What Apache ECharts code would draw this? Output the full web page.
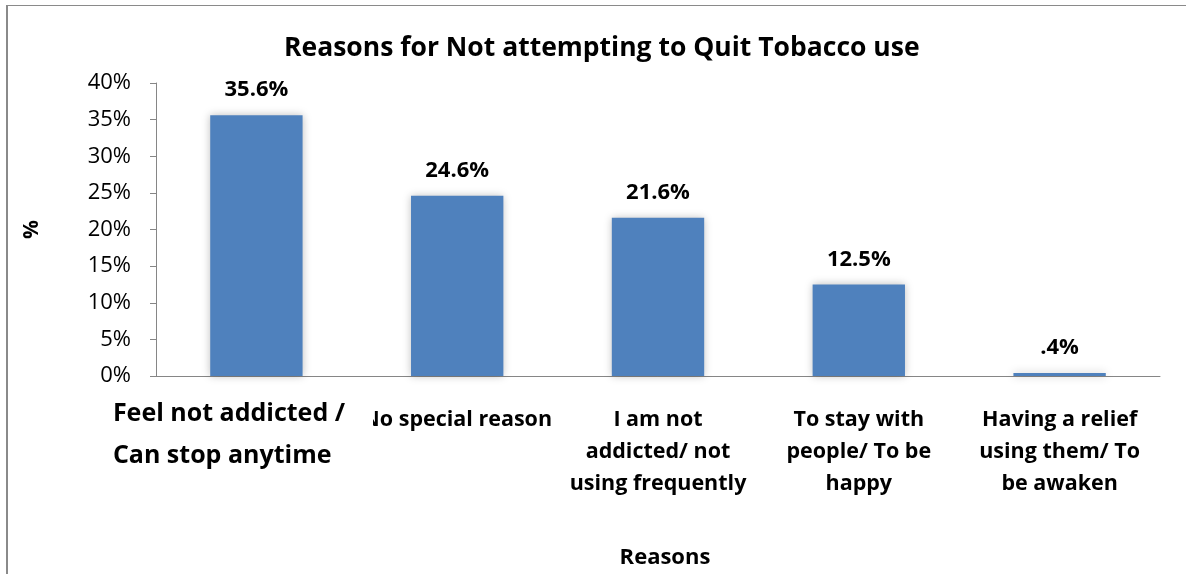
<!DOCTYPE html>
<html><head><meta charset="utf-8">
<script src="https://cdn.jsdelivr.net/npm/echarts@6/dist/echarts.min.js"></script>
<style>
html,body{margin:0;padding:0;background:#fff;}
#frame{position:absolute;left:6px;top:5px;width:1190px;height:580px;border-top:1px solid #8a8a8a;border-left:2px solid #8a8a8a;}
#chart{position:absolute;left:0;top:0;width:1186px;height:574px;}
</style></head><body>
<div id="frame"></div>
<div id="chart"></div>
<script>
const titleText = 'Reasons for Not attempting to Quit Tobacco use';
const categories = [
  'Feel not addicted /\nCan stop anytime',
  'No special reason',
  'I am not\naddicted/ not\nusing frequently',
  'To stay with\npeople/ To be\nhappy',
  'Having a relief\nusing them/ To\nbe awaken'
];
const values = [35.6, 24.6, 21.6, 12.5, 0.4];
const yMin = 0, yMax = 40, yStep = 5;
const xName = 'Reasons';
const yName = '%';

const FONT = 'Open Sans';
const chart = echarts.init(document.getElementById('chart'));
chart.setOption({
  animation: false,
  title: {
    text: titleText, left: 279, top: 30,
    textStyle: {fontFamily: FONT, fontSize: 26.5, fontWeight: 'bold', color: '#000'}
  },
  grid: {left: 156, right: 26, top: 83, bottom: 197},
  xAxis: {
    type: 'category', data: categories,
    name: xName, nameLocation: 'middle', nameGap: 171,
    nameTextStyle: {fontFamily: FONT, fontSize: 22, fontWeight: 'bold', color: '#000', padding: [0, 0, 0, 14]},
    axisLine: {lineStyle: {color: '#868686', width: 1}},
    axisTick: {length: 6, lineStyle: {color: '#868686'}},
    axisLabel: {
      interval: 0, margin: 28, color: '#000',
      fontFamily: FONT,
      formatter: function (v, i) {
        const lines = v.split('\n');
        if (i === 0) return '{f1|' + lines[0] + '}\n{f2|' + lines[1] + '}';
        return lines.map(l => '{c|' + l + '}').join('\n');
      },
      rich: {
        f1: {fontFamily: FONT, fontSize: 25, fontWeight: 'bold', color: '#000', width: 287, align: 'left', lineHeight: 20},
        f2: {fontFamily: FONT, fontSize: 25, fontWeight: 'bold', color: '#000', width: 287, align: 'left', lineHeight: 64},
        c: {fontFamily: FONT, fontSize: 21.5, fontWeight: 'bold', color: '#000', lineHeight: 32, align: 'center'}
      }
    }
  },
  yAxis: {
    type: 'value', min: yMin, max: yMax, interval: yStep,
    name: yName, nameLocation: 'middle', nameGap: 113, nameRotate: 90,
    nameTextStyle: {fontFamily: FONT, fontSize: 21, fontWeight: 'bold', color: '#000'},
    splitLine: {show: false},
    axisLine: {show: true, lineStyle: {color: '#868686', width: 1}},
    axisTick: {show: true, length: 6, lineStyle: {color: '#868686'}},
    axisLabel: {margin: 25, fontFamily: FONT, fontSize: 22, color: '#000', formatter: '{value}%'}
  },
  graphic: [{
    type: 'rect', z: 100,
    shape: {x: 347, y: 403, width: 26, height: 34},
    style: {fill: '#fff'}
  }],
  series: [{
    type: 'bar', data: values, barWidth: '46%',
    itemStyle: {color: '#4F81BD', shadowBlur: 8, shadowColor: 'rgba(0,0,0,0.25)'},
    label: {
      show: true, position: 'top', distance: 14,
      fontFamily: FONT, fontSize: 22, fontWeight: 'bold', color: '#000',
      formatter: p => p.value.toFixed(1).replace(/^0\./, '.') + '%'
    }
  }]
});
</script>
</body></html>
